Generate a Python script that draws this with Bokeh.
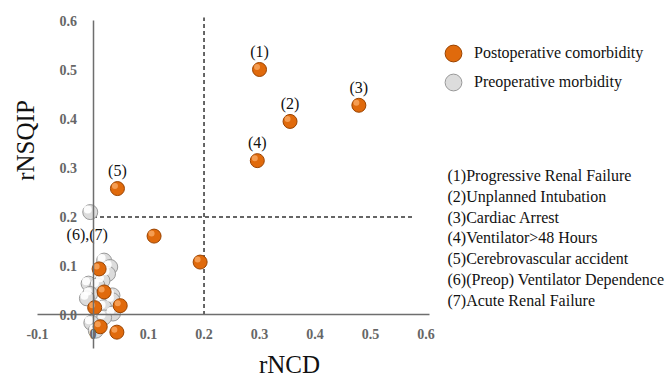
from math import pi
from bokeh.plotting import figure
from bokeh.models import (ColumnDataSource, Range1d, LinearAxis, FixedTicker,
                          Label, Legend, LegendItem)
from bokeh.transform import dodge
from bokeh.core.properties import value
from bokeh.embed import file_html
from bokeh.resources import INLINE

# ---------------- data ----------------
post_x = [0.300, 0.355, 0.479, 0.296, 0.044, 0.110, 0.193, 0.011, 0.020, 0.049, 0.003, 0.013, 0.043]
post_y = [0.501, 0.395, 0.428, 0.315, 0.258, 0.161, 0.108, 0.094, 0.047, 0.019, 0.015, -0.024, -0.035]
post_labels = ["(1)", "(2)", "(3)", "(4)", "(5)", "", "", "", "", "", "", "", ""]

pre_x = [-0.005, 0.020, 0.031, 0.027, 0.017, -0.008, 0.008, -0.005, 0.035, -0.011,
         0.035, 0.020, 0.036, 0.020, -0.003, 0.005]
pre_y = [0.210, 0.111, 0.098, 0.084, 0.070, 0.064, 0.060, 0.043, 0.040, 0.034,
         0.030, 0.016, 0.003, -0.005, -0.016, -0.032]
pre_labels = ["(6),(7)"] + [""] * 15

x_ticks = [-0.1, 0, 0.1, 0.2, 0.3, 0.4, 0.5, 0.6]
x_tick_labels = ["-0.1", "0", "0.1", "0.2", "0.3", "0.4", "0.5", "0.6"]
y_ticks = [0.0, 0.1, 0.2, 0.3, 0.4, 0.5, 0.6]
y_tick_labels = ["0.0", "0.1", "0.2", "0.3", "0.4", "0.5", "0.6"]

threshold_x = 0.2
threshold_y = 0.2

legend_labels = ["Postoperative comorbidity", "Preoperative morbidity"]
footnotes = [
    "(1)Progressive Renal Failure",
    "(2)Unplanned Intubation",
    "(3)Cardiac Arrest",
    "(4)Ventilator>48 Hours",
    "(5)Cerebrovascular accident",
    "(6)(Preop) Ventilator Dependence",
    "(7)Acute Renal Failure",
]
x_title = "rNCD"
y_title = "rNSQIP"

# ---------------- figure ----------------
W, H = 671, 378
SERIF = "Liberation Serif"
p = figure(width=W, height=H, output_backend="svg", toolbar_location=None,
           x_range=Range1d(-0.1667, 1.0423), y_range=Range1d(-0.1296, 0.6418),
           x_axis_type=None, y_axis_type=None, min_border=0)
p.outline_line_color = None
p.background_fill_color = "white"

axis_style = dict(axis_line_color="#6e6e6e", axis_line_width=1.5,
                  major_tick_line_color=None, minor_tick_line_color=None,
                  major_tick_in=0, major_tick_out=0,
                  major_label_text_font=SERIF, major_label_text_font_style="bold",
                  major_label_text_font_size="14px", major_label_text_color="#666666")

xaxis = LinearAxis(fixed_location=0, bounds=(-0.1, 0.606),
                   ticker=FixedTicker(ticks=x_ticks),
                   major_label_overrides={t: l for t, l in zip(x_ticks, x_tick_labels)},
                   major_label_standoff=14, **axis_style)
p.add_layout(xaxis, "below")

yaxis = LinearAxis(fixed_location=0, bounds=(-0.068, 0.6),
                   ticker=FixedTicker(ticks=y_ticks),
                   major_label_overrides={t: l for t, l in zip(y_ticks, y_tick_labels)},
                   major_label_standoff=16, **axis_style)
p.add_layout(yaxis, "left")

# threshold dashed lines
p.segment(x0=[threshold_x, 0.0], y0=[0.0, threshold_y],
          x1=[threshold_x, 0.58], y1=[0.607, threshold_y],
          line_color="#333333", line_width=1.5, line_dash="4 3")

post_src = ColumnDataSource(dict(x=post_x, y=post_y, label=post_labels))
pre_src = ColumnDataSource(dict(x=pre_x, y=pre_y, label=pre_labels))

dx = -2.5 / 555
dy = 2.5 / 490

pre_base = p.scatter("x", "y", source=pre_src, size=15, fill_color="#dcdcdc",
                     line_color="#999999", line_width=1)
p.scatter(dodge("x", dx), dodge("y", dy), source=pre_src, size=8,
          fill_color="#ffffff", line_color=None, fill_alpha=0.9)

post_base = p.scatter("x", "y", source=post_src, size=14, fill_color="#e06a0c",
                      line_color="#9a4300", line_width=1)
p.scatter(dodge("x", dx), dodge("y", dy), source=post_src, size=6,
          fill_color="#f7a35a", line_color=None, fill_alpha=0.9)

p.text("x", "y", text="label", source=post_src, y_offset=-18,
       text_align="center", text_baseline="middle",
       text_font=value(SERIF), text_font_size="16px", text_color="#111111")
p.text("x", "y", text="label", source=pre_src, y_offset=22, x_offset=-3,
       text_align="center", text_baseline="middle",
       text_font=value(SERIF), text_font_size="16px", text_color="#111111")

legend_style = dict(glyph_width=42, glyph_height=42, spacing=0,
                    padding=0, margin=0, label_standoff=0,
                    border_line_color=None, background_fill_alpha=0,
                    label_text_font=SERIF, label_text_font_size="16px",
                    label_text_color="#111111")
legend1 = Legend(items=[LegendItem(label=legend_labels[0], renderers=[post_base])],
                 location=(432, 304), **legend_style)
legend2 = Legend(items=[LegendItem(label=legend_labels[1], renderers=[pre_base])],
                 location=(432, 275), **legend_style)
p.add_layout(legend1)
p.add_layout(legend2)

for i, t in enumerate(footnotes):
    p.add_layout(Label(x=447, y=H - 175 - i * 20.8, x_units="screen", y_units="screen",
                       text=t, text_baseline="middle", text_font=SERIF,
                       text_font_size="16px", text_color="#111111"))

p.add_layout(Label(x=25, y=H - 140, x_units="screen", y_units="screen", text=y_title,
                   angle=pi / 2, text_align="center", text_baseline="middle",
                   text_font=SERIF, text_font_size="25px", text_color="#111111"))
p.add_layout(Label(x=289, y=H - 364, x_units="screen", y_units="screen", text=x_title,
                   text_align="center", text_baseline="middle",
                   text_font=SERIF, text_font_size="25px", text_color="#111111"))

open("out.html", "w").write(file_html(p, INLINE))
